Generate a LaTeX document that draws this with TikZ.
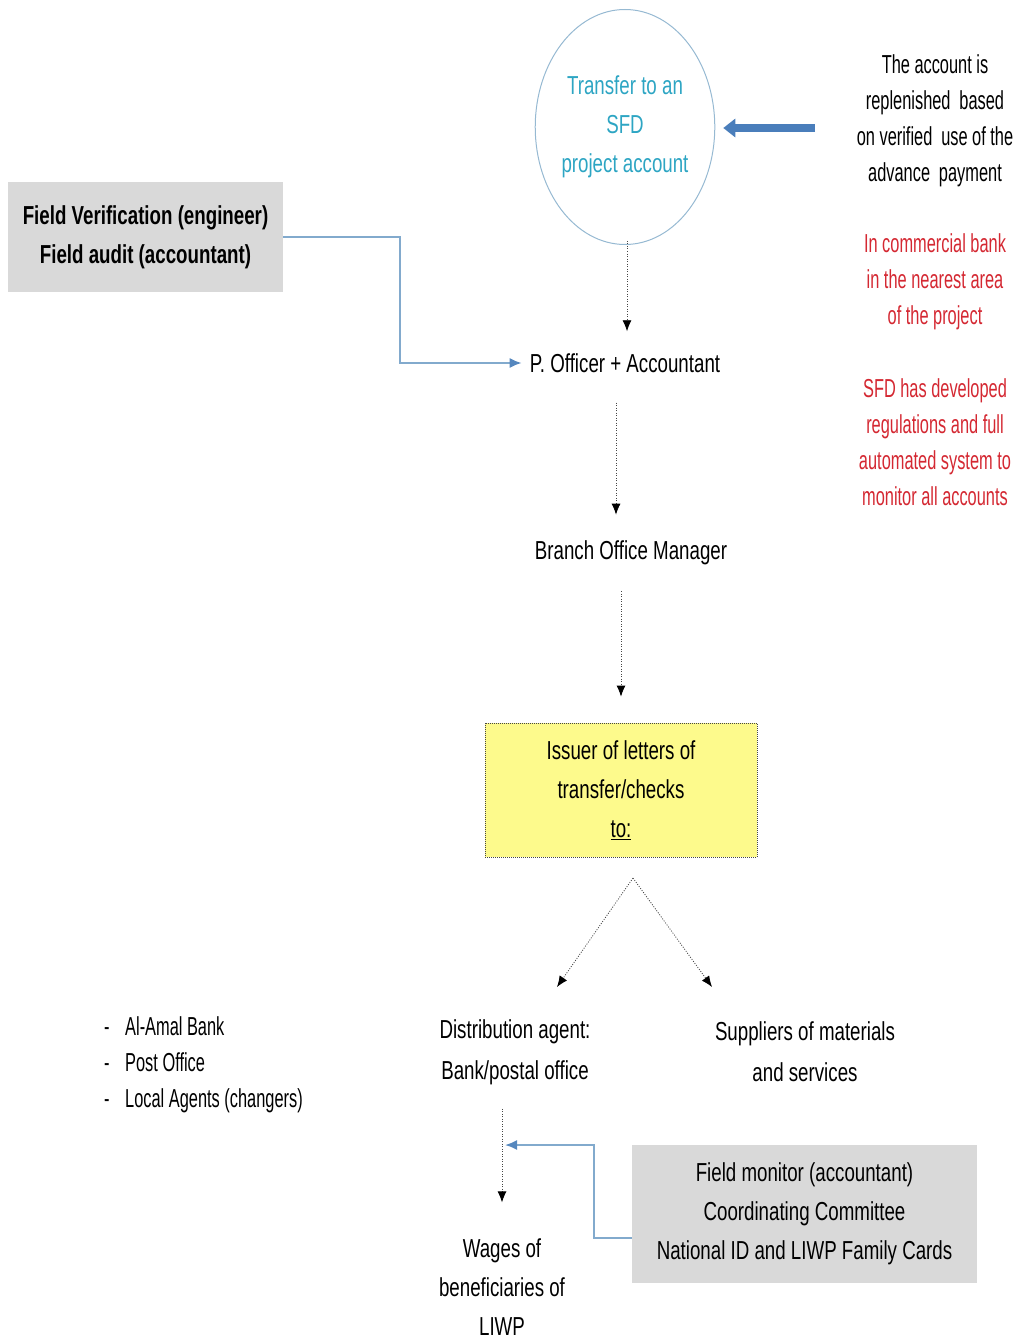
\documentclass[tikz,border=0pt]{standalone}
\usepackage{fontspec}
\setmainfont[FakeStretch=0.72]{Liberation Sans}
\newfontfamily\narrowfont[FakeStretch=0.63]{Liberation Sans}
\usetikzlibrary{arrows.meta,shapes.geometric}
\definecolor{teal1}{RGB}{45,165,195}
\definecolor{ellb}{RGB}{150,185,210}
\definecolor{bigb}{RGB}{74,126,187}
\definecolor{connb}{RGB}{130,170,205}
\definecolor{tipb}{RGB}{85,135,190}
\definecolor{red1}{RGB}{212,40,50}
\definecolor{gray1}{RGB}{217,217,217}
\definecolor{yel1}{RGB}{253,250,140}
\definecolor{dotc}{RGB}{70,70,70}
\begin{document}
\begin{tikzpicture}[x=1pt,y=-1pt,
  txt/.style={align=center,font=\fontsize{26}{36}\selectfont,inner sep=8pt},
  ntxt/.style={align=center,font=\narrowfont\fontsize{26}{36}\selectfont,inner sep=8pt},
  txt39/.style={align=center,font=\fontsize{26}{39}\selectfont,inner sep=8pt},
  graybox/.style={txt39,fill=gray1,draw=none},
  yelbox/.style={txt39,fill=yel1,draw=dotc,dash pattern=on 1pt off 1pt,line width=0.8pt,minimum width=272pt,minimum height=134pt},
  dotarr/.style={draw=dotc,line width=0.8pt,dash pattern=on 1pt off 1.5pt,-{Latex[length=11pt,width=9pt,color=black]}},
  conn/.style={draw=connb,line width=1.8pt,-{Latex[length=12pt,width=10pt,color=tipb]}},
  bigarrow/.style={draw=bigb,line width=8pt,-{Triangle[length=12pt,width=18pt]}}
]
\useasboundingbox (0,0) rectangle (1018,1340);

% top ellipse
\node[ellipse,draw=ellb,line width=1pt,minimum width=170pt,minimum height=235pt,txt39,text=teal1,inner sep=0pt] (circ) at (625,127) {Transfer to an\\SFD\\project account};

% right texts
\node[ntxt] (rt1) at (935,121) {The account is\\replenished\, based\\on verified\, use of the\\advance\, payment};
\node[ntxt,text=red1] (rt2) at (935,282) {In commercial bank\\in the nearest area\\of the project};
\node[ntxt,text=red1] (rt3) at (935,442) {SFD has developed\\regulations and full\\automated system to\\monitor all accounts};
\coordinate (bigtail) at (815,128);
\draw[bigarrow,shorten >=8pt] (bigtail) -- (circ.east |- bigtail);

% field verification box
\node[graybox,font=\fontsize{26}{39}\selectfont\bfseries,minimum width=275pt,minimum height=110pt] (fv) at (145.5,237) {Field Verification (engineer)\\Field audit (accountant)};

% chain
\node[txt] (po) at (625,363) {P. Officer + Accountant};
\node[txt] (bom) at (631,553) {Branch Office Manager};
\node[yelbox] (yel) at (621,790) {Issuer of letters of\\transfer/checks\\\underline{to:}};

\draw[conn] (fv.east) -- ++(117,0) |- (po.west);

\draw[dotarr,shorten <=-4pt,shorten >=14pt] ([xshift=2pt]circ.south) -- ([xshift=2pt]circ.south |- po.north);
\draw[dotarr,shorten <=22pt,shorten >=18pt] ([xshift=-9pt]po.south) -- ([xshift=-9pt]po.south |- bom.north);
\draw[dotarr,shorten <=18pt,shorten >=26pt] ([xshift=-10pt]bom.south) -- ([xshift=-10pt]bom.south |- yel.north);

% branching
\node[txt,align=center,font=\fontsize{26}{41}\selectfont] (da) at (515,1052) {Distribution agent:\\Bank/postal office};
\node[txt,align=center,font=\fontsize{26}{41}\selectfont] (su) at (805,1052) {Suppliers of materials\\and services};
\coordinate (apex) at (633,878);
\coordinate (daT) at (557,987);
\coordinate (suT) at (712,987);
\draw[dotarr] (apex) -- (daT);
\draw[dotarr] (apex) -- (suT);

% list
\node[ntxt,align=left,anchor=west] (lst) at (96,1065) {\makebox[21pt][l]{-}Al-Amal Bank\\\makebox[21pt][l]{-}Post Office\\\makebox[21pt][l]{-}Local Agents (changers)};

% bottom
\node[txt39] (wg) at (502,1287) {Wages of\\beneficiaries of\\LIWP};
\node[graybox,minimum width=345pt,minimum height=138pt] (fm) at (804.5,1214) {Field monitor (accountant)\\Coordinating Committee\\National ID and LIWP Family Cards};
\draw[dotarr,shorten <=16pt,shorten >=28pt] (da.south -| wg.north) -- (wg.north);
\coordinate (dl) at (505,1145);
\draw[conn] ([yshift=-24pt]fm.west) -- ++(-38,0) |- (dl);
\end{tikzpicture}
\end{document}
